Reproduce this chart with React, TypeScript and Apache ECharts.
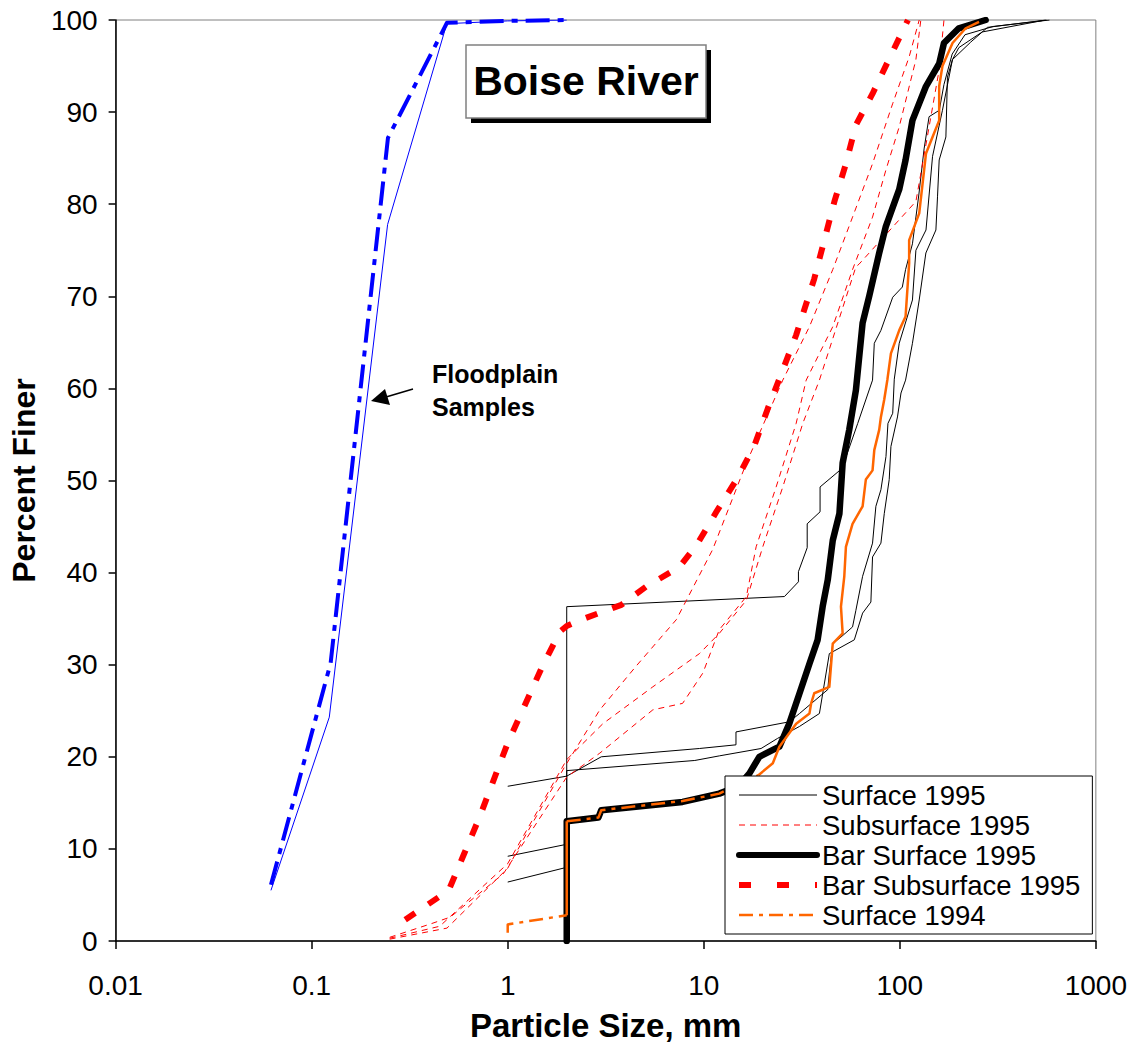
import React, { useEffect, useRef } from "react";
import * as echarts from "echarts";

type Pt = [number, number];

const xTickLabels = ["0.01", "0.1", "1", "10", "100", "1000"];
const yTickLabels = ["0", "10", "20", "30", "40", "50", "60", "70", "80", "90", "100"];
const legendNames = ["Surface 1995", "Subsurface 1995", "Bar Surface 1995", "Bar Subsurface 1995", "Surface 1994"];

// Surface 1995 (three samples)
const surface1995A: Pt[] = [[1, 9.2], [2, 10.5], [2, 36.3], [25.8, 37.4], [30.4, 39], [30.4, 40.1], [33.7, 42.7], [33.7, 45.3], [39.2, 46.6], [39.2, 49.3], [50.7, 51.3], [61, 56.2], [72.6, 60.9], [74.1, 64.9], [80.1, 66.3], [92, 69.9], [103, 71], [107, 72.9], [116, 75.7], [125, 81], [133, 86], [141, 89.5], [159, 90.2], [168, 93], [185, 96.3], [215, 98.4], [300, 99.3], [580, 100]];
const surface1995B: Pt[] = [[1, 16.8], [2, 17.9], [3, 20], [9.5, 20.9], [14.6, 21.3], [14.6, 22.7], [27.3, 23.8], [30.8, 24.7], [42.9, 27.3], [43.7, 29.1], [45.5, 32.3], [50.1, 33], [57.4, 34.1], [59.7, 35.9], [64.6, 39.6], [72.6, 43.2], [75.5, 47.2], [80.1, 49], [85, 52.6], [87, 56.2], [92, 57.3], [93.7, 61], [99.3, 64.9], [116, 69.6], [120.8, 75], [136, 77.2], [146.9, 85.2], [165, 90.2], [185.6, 95.7], [230, 97.6], [280, 99.2], [560, 100]];
const surface1995C: Pt[] = [[1, 6.4], [2, 8.0], [2, 18.5], [9, 19.6], [12, 20.1], [19.6, 20.9], [23.8, 22], [30.8, 23.3], [38.9, 24.7], [43.7, 31.2], [58.6, 32.7], [64.6, 35.6], [71.2, 36.8], [72.6, 41.7], [80.1, 43.2], [83.3, 46.4], [88.3, 50.1], [90.1, 53.7], [97.3, 56.9], [101.4, 59.5], [107, 60.9], [116, 64.9], [125.6, 69.6], [135.8, 74.7], [152.8, 77.2], [155.7, 80.8], [158.8, 84.8], [171.8, 87.3], [175, 93.8], [185.6, 95.7], [200, 97], [263, 98.7], [554, 100]];

// Subsurface 1995 (three samples)
const subsurface1995A: Pt[] = [[0.25, 0.2], [0.49, 1.4], [1, 7.9], [1.25, 11.7], [1.95, 18.9], [2.95, 25.1], [4.5, 29.8], [7.25, 34.9], [11.1, 42.5], [16.5, 51.9], [25.3, 60.9], [34.6, 66.7], [45.5, 72.9], [57.4, 78.6], [72.6, 84.4], [91.9, 90.9], [111.6, 96], [125.6, 100]];
const subsurface1995B: Pt[] = [[0.25, 0.4], [0.41, 1.9], [0.51, 2.6], [0.95, 7.3], [2, 17.8], [2.95, 20.4], [5.5, 25.1], [7.8, 25.8], [9.9, 29.1], [12, 33.8], [16.5, 37.4], [18.5, 42.8], [23.4, 49.3], [29.6, 56.2], [33.3, 60.9], [45.5, 66.7], [57.4, 72.9], [72.6, 78.6], [84.9, 83.7], [99.3, 88.4], [120.8, 95.7], [128, 100]];
const subsurface1995C: Pt[] = [[0.25, 0.3], [0.45, 1.6], [1, 8.4], [2, 19.7], [3.06, 23.6], [5.5, 27.6], [9.5, 31.2], [12, 33.4], [16.5, 37], [20, 42.8], [25.3, 49.3], [32, 56.2], [38.9, 60.9], [59.7, 73.2], [62, 73.5], [120.8, 80.3], [158.8, 94.6], [168, 100]];

// Bar Surface 1995
const barSurface1995: Pt[] = [[2, 0], [2, 13], [2.9, 13.4], [3, 14.2], [7.8, 15.1], [12, 16], [15, 16.8], [17.1, 18.2], [19.2, 20], [24.3, 21.1], [27.3, 23.6], [30.8, 26.9], [34.6, 30.1], [38.1, 32.7], [40.4, 36.3], [42.9, 39.2], [45.5, 43.5], [49.2, 46.4], [51.1, 51.9], [55.2, 55.5], [59.7, 59.8], [64.6, 67.1], [69.8, 70], [78.5, 74.7], [84.9, 77.6], [99.3, 81.6], [107, 84.8], [116, 89.1], [136, 92.8], [159, 95.3], [168, 97.5], [200, 99.1], [274, 100]];

// Bar Subsurface 1995
const barSubsurface1995: Pt[] = [[0.3, 2.3], [0.5, 5.5], [0.6, 9.5], [0.72, 13.5], [1.0, 21.5], [1.5, 29.8], [1.85, 33.6], [2.0, 34.2], [2.45, 35], [3.8, 36.5], [5.1, 38.5], [7.5, 40.6], [9.2, 43], [11.6, 46.6], [15, 50.4], [18.2, 53.9], [21.2, 57.8], [25.3, 62], [29.6, 65.8], [36.6, 71.9], [41.2, 76.1], [46.4, 80.3], [53.1, 84.4], [59.7, 88.6], [72.6, 92], [88.3, 95.8], [110, 100]];

// Surface 1994 (dash-dot where points are sparse, solid where dense)
const surface1994Start: Pt[] = [[1, 0.9], [1, 1.8], [2, 2.8]];
const surface1994Rise: Pt[] = [[2, 2.8], [2, 13]];
const surface1994Low: Pt[] = [[2, 13], [2.9, 13.4], [3, 14.2], [7.8, 15.2], [12, 16], [15, 17], [19, 18]];
const surface1994: Pt[] = [[19, 18], [22.5, 19.3], [24.3, 21.1], [29.6, 23.6], [34.6, 24.7], [35.3, 25.8], [36.6, 26.9], [43.7, 27.6], [45.5, 32.3], [51.1, 33.4], [50.1, 36.3], [52.1, 39.6], [53.1, 42.8], [57.4, 45.3], [64.6, 47.2], [67.1, 50.1], [72.6, 51.1], [74.1, 53.3], [78.5, 55.5], [80.1, 56.9], [83.3, 58.8], [86.5, 61], [90.1, 63.8], [99.3, 66.3], [107, 67.8], [111.6, 73.6], [111.6, 76.1], [125.6, 79], [136, 85.5], [146.9, 87.3], [158.8, 89.1], [158.8, 92.8], [165, 95], [185.8, 97.5], [216.8, 99.1], [253.6, 99.8]];

// Floodplain samples
const floodplainA: Pt[] = [[0.062, 5.5], [0.123, 24.3], [0.244, 77.8], [0.489, 99.6], [1, 99.9], [2, 100]];
const floodplainB: Pt[] = [[0.062, 6.1], [0.125, 30.2], [0.245, 87.2], [0.49, 99.7], [1, 99.9], [2, 100]];

const FONT = '"Liberation Sans", Arial, Helvetica, sans-serif';
const DASHDOT = [14, 6, 4, 6];
const THIN_DASH = [6, 5];
const THICK_DASH = [12, 16];

function line(name: string, data: Pt[], color: string, width: number, type: any, cap: string = "butt") {
  return {
    type: "line",
    name,
    data,
    symbol: "none",
    showSymbol: false,
    silent: true,
    clip: true,
    lineStyle: { color, width, type, cap, join: "round" },
    itemStyle: { color },
  };
}

export default function App() {
  const ref = useRef<HTMLDivElement>(null);
  useEffect(() => {
    const chart = echarts.init(ref.current!, null, { renderer: "svg" });
    const legendStyles: any[] = [
      { width: 1, type: "solid", color: "#000000" },
      { width: 1, type: THIN_DASH, color: "#ff0000" },
      { width: 6, type: "solid", color: "#000000", cap: "round" },
      { width: 6, type: [12, 26], color: "#ff0000" },
      { width: 2.5, type: DASHDOT, color: "#ff6600" },
    ];
    const option: any = {
      animation: false,
      backgroundColor: "#ffffff",
      textStyle: { fontFamily: FONT },
      grid: { left: 115, right: 33, top: 20, bottom: 108, show: true, borderColor: "#808080", borderWidth: 1 },
      xAxis: {
        type: "log",
        logBase: 10,
        min: 0.01,
        max: 1000,
        name: "Particle Size, mm",
        nameLocation: "middle",
        nameGap: 68,
        nameTextStyle: { fontFamily: FONT, fontWeight: "bold", fontSize: 33, color: "#000" },
        axisLine: { show: true, lineStyle: { color: "#000", width: 1.5 } },
        axisTick: { show: true, inside: false, length: 8, lineStyle: { color: "#000", width: 1.5 } },
        minorTick: { show: false },
        splitLine: { show: false },
        axisLabel: {
          margin: 30,
          fontFamily: FONT,
          fontSize: 28,
          color: "#000",
          formatter: (v: number) => xTickLabels[Math.round(Math.log10(v)) + 2] ?? "",
        },
      },
      yAxis: {
        type: "value",
        min: 0,
        max: 100,
        interval: 10,
        name: "Percent Finer",
        nameLocation: "middle",
        nameGap: 74,
        nameRotate: 90,
        nameTextStyle: { fontFamily: FONT, fontWeight: "bold", fontSize: 32, color: "#000" },
        axisLine: { show: true, lineStyle: { color: "#000", width: 1.5 } },
        axisTick: { show: true, inside: false, length: 7, lineStyle: { color: "#000", width: 1.5 } },
        splitLine: { show: false },
        axisLabel: {
          margin: 18,
          fontFamily: FONT,
          fontSize: 28,
          color: "#000",
          formatter: (v: number) => yTickLabels[Math.round(v / 10)] ?? "",
        },
      },
      legend: {
        data: legendNames.map((name, i) => ({ name, lineStyle: legendStyles[i], itemStyle: { opacity: 0, borderWidth: 0 } })),
        orient: "vertical",
        left: 725,
        top: 776,
        padding: [4, 12, 4, 11],
        itemWidth: 78,
        itemHeight: 14,
        itemGap: 0,
        backgroundColor: "#fff",
        borderColor: "#000",
        borderWidth: 1,
        selectedMode: false,
        itemStyle: { opacity: 0, borderWidth: 0 },
        textStyle: { fontFamily: FONT, fontSize: 27.5, color: "#000", lineHeight: 30, height: 30 },
      },
      graphic: [
        { type: "rect", shape: { x: 471, y: 50, width: 240, height: 73 }, style: { fill: "#000" }, z: 100 },
        { type: "rect", shape: { x: 466, y: 45, width: 240, height: 73 }, style: { fill: "#fff", stroke: "#808080", lineWidth: 1.5 }, z: 101 },
        {
          type: "text",
          x: 586,
          y: 81,
          z: 102,
          style: { text: "Boise River", fontFamily: FONT, fontWeight: "bold", fontSize: 41, fill: "#000", align: "center", verticalAlign: "middle", textAlign: "center", textVerticalAlign: "middle" },
        },
        {
          type: "text",
          x: 432,
          y: 357,
          z: 102,
          style: { text: "Floodplain\nSamples", fontFamily: FONT, fontWeight: "bold", fontSize: 25, lineHeight: 33, fill: "#000", align: "left", verticalAlign: "top" },
        },
        { type: "line", shape: { x1: 413, y1: 389, x2: 386, y2: 397 }, style: { stroke: "#000", lineWidth: 1.5 }, z: 102 },
        { type: "polygon", shape: { points: [[371, 401], [385, 389], [390, 405]] }, style: { fill: "#000" }, z: 102 },
      ],
      series: [
        line("Surface 1995", surface1995A, "#000000", 1, "solid"),
        line("Surface 1995", surface1995B, "#000000", 1, "solid"),
        line("Surface 1995", surface1995C, "#000000", 1, "solid"),
        line("Subsurface 1995", subsurface1995A, "#ff0000", 1, THIN_DASH),
        line("Subsurface 1995", subsurface1995B, "#ff0000", 1, THIN_DASH),
        line("Subsurface 1995", subsurface1995C, "#ff0000", 1, THIN_DASH),
        line("Bar Subsurface 1995", barSubsurface1995, "#ff0000", 6, THICK_DASH),
        line("Bar Surface 1995", barSurface1995, "#000000", 6.5, "solid", "round"),
        line("Surface 1994", surface1994Start, "#ff6600", 2.5, DASHDOT),
        line("Surface 1994", surface1994Rise, "#ff6600", 2.5, "solid"),
        line("Surface 1994", surface1994Low, "#ff6600", 2.5, DASHDOT),
        line("Surface 1994", surface1994, "#ff6600", 2.5, "solid"),
        line("Floodplain A", floodplainA, "#0000ff", 1, "solid"),
        line("Floodplain B", floodplainB, "#0000ff", 4, [24, 8, 6, 8]),
      ],
    };
    chart.setOption(option);
    return () => chart.dispose();
  }, []);
  return <div ref={ref} style={{ position: "absolute", left: 0, top: 0, width: 1130, height: 1049, background: "#fff" }} />;
}
